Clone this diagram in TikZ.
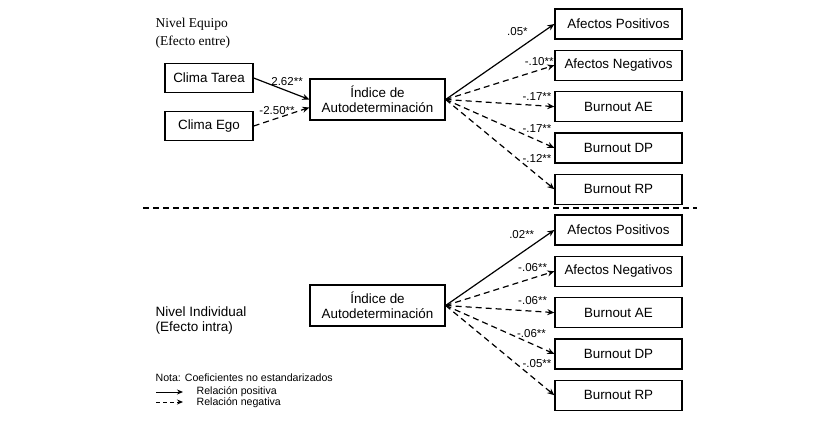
\documentclass[tikz,border=0pt]{standalone}
\usepackage{fontspec}
\setmainfont{Liberation Serif}
\setsansfont{Liberation Sans}
\usetikzlibrary{positioning,arrows.meta}

\begin{document}
\begin{tikzpicture}[x=1pt, y=-1pt, node distance=10pt,
  font=\sffamily\fontsize{13.4}{15}\selectfont, line width=1.2pt,
  >={Stealth[length=7pt,width=6pt]}]
\tikzstyle{box}=[draw, align=center, inner sep=2pt, line width=1.3pt]
\tikzstyle{pred}=[box, minimum width=88pt, minimum height=29pt]
\tikzstyle{idx}=[box, minimum width=135pt, minimum height=41pt]
\tikzstyle{outbox}=[box, minimum width=127pt, minimum height=30pt]
\tikzstyle{coef}=[font=\sffamily\fontsize{11.5}{12}\selectfont, inner sep=1pt]
\tikzstyle{posarr}=[->]
\tikzstyle{negarr}=[->, dash pattern=on 6pt off 4pt]
\useasboundingbox (0,0) rectangle (840,433);
% nivel equipo
\node[anchor=north west, inner sep=0pt, align=left,
  font=\rmfamily\fontsize{13.5}{18}\selectfont] (equipo) at (155,18)
  {Nivel Equipo\\(Efecto entre)};
\node[pred] (tarea) at (209,78) {Clima Tarea};
\node[pred] (ego) at (209,126) {Clima Ego};
\node[idx] (ind1) at (377.5,99.5) {Índice de\\Autodeterminación};
\node[outbox] (ap1) at (618.5,24) {Afectos Positivos};
\node[outbox, below=of ap1] (an1) {Afectos Negativos};
\node[outbox, below=of an1] (ae1) {Burnout AE};
\node[outbox, below=of ae1] (dp1) {Burnout DP};
\node[outbox, below=of dp1] (rp1) {Burnout RP};
\draw[posarr] (tarea.east) -- node[coef, pos=0.6, above=4pt]{2.62**} (ind1.west);
\draw[negarr] (ego.east) -- node[coef, pos=0.42, above=2pt]{-2.50**} ([yshift=-8pt]ind1.west);
\draw[posarr] (ind1.east) -- node[coef, pos=0.66, above=12pt]{.05*} (ap1.west);
\draw[negarr] (ind1.east) -- node[coef, pos=0.86, above=3pt]{-.10**} (an1.west);
\draw[negarr] (ind1.east) -- node[coef, pos=0.84, above=3pt]{-.17**} (ae1.west);
\draw[negarr] (ind1.east) -- node[coef, pos=0.84, above=6pt]{-.17**} (dp1.west);
\draw[negarr] (ind1.east) -- node[coef, pos=0.84, above=11pt]{-.12**} (rp1.west);
% separador
\coordinate (sepL) at (143,208);
\coordinate (sepR) at (697,208);
\draw[line width=1.3pt, dash pattern=on 6pt off 4pt] (sepL) -- (sepR);
% nivel individual
\node[anchor=north west, inner sep=0pt, align=left,
  font=\sffamily\fontsize{13.5}{15}\selectfont] (indiv) at (155,306)
  {Nivel Individual\\(Efecto intra)};
\node[idx] (ind2) at (377.5,305.5) {Índice de\\Autodeterminación};
\node[outbox] (ap2) at (618.5,230) {Afectos Positivos};
\node[outbox, below=of ap2] (an2) {Afectos Negativos};
\node[outbox, below=of an2] (ae2) {Burnout AE};
\node[outbox, below=of ae2] (dp2) {Burnout DP};
\node[outbox, below=of dp2] (rp2) {Burnout RP};
\draw[posarr] (ind2.east) -- node[coef, pos=0.7, above=12pt]{.02**} (ap2.west);
\draw[negarr] (ind2.east) -- node[coef, pos=0.8, above=5pt]{-.06**} (an2.west);
\draw[negarr] (ind2.east) -- node[coef, pos=0.8, above=5pt]{-.06**} (ae2.west);
\draw[negarr] (ind2.east) -- node[coef, pos=0.79, above=5pt]{-.06**} (dp2.west);
\draw[negarr] (ind2.east) -- node[coef, pos=0.84, above=12pt]{-.05**} (rp2.west);
% nota
\node[anchor=west, inner sep=0pt, font=\sffamily\fontsize{10.6}{12}\selectfont]
  (nota) at (155,378) {Nota: Coeficientes no estandarizados};
\coordinate (l1a) at (156,392);
\coordinate (l1b) at (183,392);
\coordinate (l2a) at (156,402);
\coordinate (l2b) at (183,402);
\draw[->, line width=1pt, >={Stealth[length=6pt,width=5pt]}] (l1a) -- (l1b);
\draw[->, line width=1pt, dash pattern=on 4pt off 3pt,
  >={Stealth[length=6pt,width=5pt]}] (l2a) -- (l2b);
\node[anchor=west, inner sep=0pt, font=\sffamily\fontsize{10.6}{12}\selectfont]
  (lpos) at (196,392) {Relación positiva};
\node[anchor=west, inner sep=0pt, font=\sffamily\fontsize{10.6}{12}\selectfont]
  (lneg) at (196,403) {Relación negativa};
\end{tikzpicture}
\end{document}
